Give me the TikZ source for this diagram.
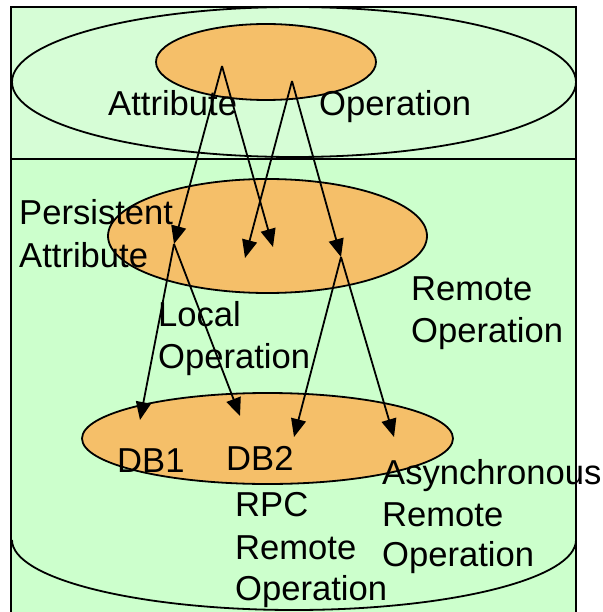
\documentclass[tikz,border=0pt]{standalone}
\usepackage{fontspec}
\setmainfont{Liberation Sans}
\usetikzlibrary{arrows.meta,shapes.geometric}
\definecolor{topgreen}{RGB}{214,253,214}
\definecolor{botgreen}{RGB}{204,255,204}
\definecolor{orng}{RGB}{245,191,105}
\begin{document}
\begin{tikzpicture}[x=1pt,y=-1pt,
  lbl/.style={anchor=base west, inner sep=0pt, font=\fontsize{34.6}{40}\selectfont},
  oell/.style={draw, line width=1.8pt, fill=orng, ellipse, inner sep=0pt},
  conn/.style={line width=1.8pt, -{Triangle[length=18pt,width=15pt]}},
  frame/.style={line width=2.5pt},
  thin/.style={line width=1.8pt}
]
\useasboundingbox (0,0) rectangle (602,612);
% backgrounds
\fill[botgreen] (11,7) rectangle (576,620);
\fill[topgreen] (11,7) rectangle (576,159);
% cylinder outlines
\draw[thin] (294,82) ellipse [x radius=282pt, y radius=75pt];
\draw[thin] (576,540) arc [start angle=0, end angle=-180, x radius=282pt, y radius=70pt];
% frame
\draw[frame] (11,620) -- (11,7) -- (576,7) -- (576,620);
\draw[frame] (11,159) -- (576,159);
% orange ellipses
\node[oell, minimum width=220pt, minimum height=76pt] (top) at (266,62) {};
\node[oell, minimum width=319pt, minimum height=114pt] (mid) at (267.5,236) {};
\node[oell, minimum width=371pt, minimum height=91pt] (bot) at (267.5,438.5) {};
% coordinates
\coordinate (a) at (222,66);
\coordinate (b) at (292,81);
\coordinate (pa) at (174,244);
\coordinate (lo1) at (273,247);
\coordinate (lo2) at (245,258);
\coordinate (ro) at (341,257);
\coordinate (db1) at (140,420);
\coordinate (db2) at (240,416);
\coordinate (rpc) at (294,437);
\coordinate (async) at (394,437);
% arrows
\draw[conn] (a) -- (pa);
\draw[conn] (a) -- (lo1);
\draw[conn] (b) -- (lo2);
\draw[conn] (b) -- (ro);
\draw[conn] (pa) -- (db1);
\draw[conn] (pa) -- (db2);
\draw[conn] (ro) -- (rpc);
\draw[conn] (ro) -- (async);
% labels
\node[lbl] (t1) at (108,116) {Attribute};
\node[lbl] (t2) at (319,116) {Operation};
\node[lbl] (p1) at (19,225) {Persistent};
\node[lbl] (p2) at (19,267) {Attribute};
\node[lbl] (l1) at (158,326) {Local};
\node[lbl] (l2) at (158,368) {Operation};
\node[lbl] (r1) at (411,300) {Remote};
\node[lbl] (r2) at (411,342) {Operation};
\node[lbl] (d1) at (117,472) {DB1};
\node[lbl] (d2) at (226,470) {DB2};
\node[lbl] (c1) at (235,516) {RPC};
\node[lbl] (c2) at (235,559) {Remote};
\node[lbl] (c3) at (235,600) {Operation};
\node[lbl] (s1) at (382,484) {Asynchronous};
\node[lbl] (s2) at (382,526) {Remote};
\node[lbl] (s3) at (382,566) {Operation};
\end{tikzpicture}
\end{document}
